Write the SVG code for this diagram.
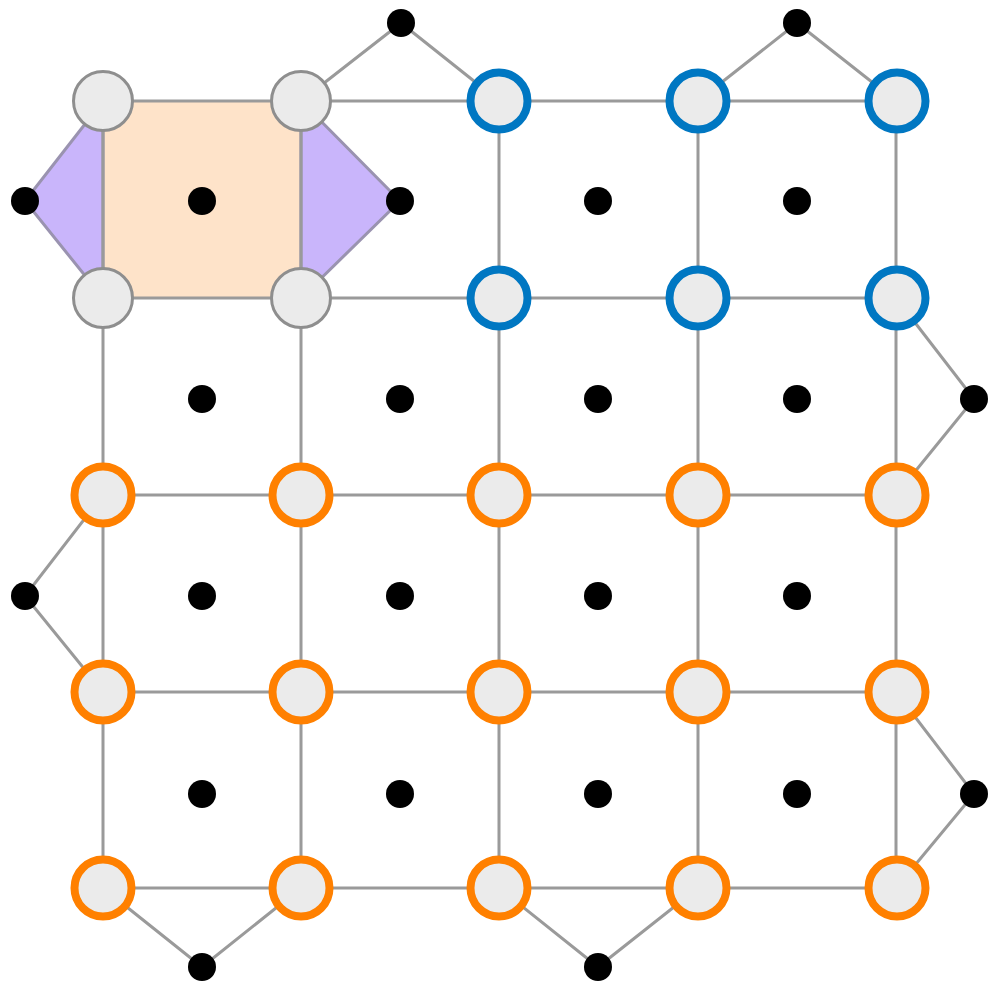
<svg xmlns="http://www.w3.org/2000/svg" width="999" height="981" viewBox="0 0 999 981">
<style>
.e{stroke:#9a9a9a;stroke-width:3;fill:none}
.g{fill:#ebebeb;stroke:#8e8e8e;stroke-width:3}
.b{fill:#ebebeb;stroke:#0077c2;stroke-width:8}
.o{fill:#ebebeb;stroke:#ff8000;stroke-width:8}
.d{fill:#000}
</style>
<rect width="999" height="981" fill="#fff"/>
<g id="faces">
<rect x="103" y="101" width="198" height="197" fill="#fee3c9"/>
<polygon points="103,101 25,201 103,298" fill="#c9b5fb" stroke="#9a93b0" stroke-width="3"/>
<polygon points="301,101 400,201 301,298" fill="#c9b5fb" stroke="#9a93b0" stroke-width="3"/>
</g>
<g id="connectors" class="e">
<line x1="103" y1="101" x2="896" y2="101"/>
<line x1="103" y1="298" x2="896" y2="298"/>
<line x1="103" y1="495" x2="896" y2="495"/>
<line x1="103" y1="692" x2="896" y2="692"/>
<line x1="103" y1="888" x2="896" y2="888"/>
<line x1="103" y1="101" x2="103" y2="888"/>
<line x1="301" y1="101" x2="301" y2="888"/>
<line x1="499" y1="101" x2="499" y2="888"/>
<line x1="698" y1="101" x2="698" y2="888"/>
<line x1="896" y1="101" x2="896" y2="888"/>
<polyline points="301,101 401,23 499,101"/>
<polyline points="698,101 797,23 896,101"/>
<polyline points="896,298 974,399 896,495"/>
<polyline points="103,495 25,596 103,692"/>
<polyline points="896,692 974,794 896,888"/>
<polyline points="103,888 202,967 301,888"/>
<polyline points="499,888 598,967 698,888"/>
</g>
<g id="dots" class="d">
<circle cx="401" cy="23" r="14"/>
<circle cx="797" cy="23" r="14"/>
<circle cx="25" cy="201" r="14"/>
<circle cx="974" cy="399" r="14"/>
<circle cx="25" cy="596" r="14"/>
<circle cx="974" cy="794" r="14"/>
<circle cx="202" cy="967" r="14"/>
<circle cx="598" cy="967" r="14"/>
<circle cx="202" cy="201" r="14"/><circle cx="400" cy="201" r="14"/><circle cx="598" cy="201" r="14"/><circle cx="797" cy="201" r="14"/>
<circle cx="202" cy="399" r="14"/><circle cx="400" cy="399" r="14"/><circle cx="598" cy="399" r="14"/><circle cx="797" cy="399" r="14"/>
<circle cx="202" cy="596" r="14"/><circle cx="400" cy="596" r="14"/><circle cx="598" cy="596" r="14"/><circle cx="797" cy="596" r="14"/>
<circle cx="202" cy="794" r="14"/><circle cx="400" cy="794" r="14"/><circle cx="598" cy="794" r="14"/><circle cx="797" cy="794" r="14"/>
</g>
<g id="nodes">
<circle id="n00" class="g" cx="103" cy="101" r="29.5"/>
<circle id="n01" class="g" cx="301" cy="101" r="29.5"/>
<circle id="n10" class="g" cx="103" cy="298" r="29.5"/>
<circle id="n11" class="g" cx="301" cy="298" r="29.5"/>
<circle id="n02" class="b" cx="499" cy="101" r="28.5"/>
<circle id="n03" class="b" cx="698" cy="101" r="28.5"/>
<circle id="n04" class="b" cx="897" cy="101" r="28.5"/>
<circle id="n12" class="b" cx="499" cy="298" r="28.5"/>
<circle id="n13" class="b" cx="698" cy="298" r="28.5"/>
<circle id="n14" class="b" cx="897" cy="298" r="28.5"/>
<circle id="n20" class="o" cx="103" cy="495" r="28.5"/>
<circle id="n21" class="o" cx="301" cy="495" r="28.5"/>
<circle id="n22" class="o" cx="499" cy="495" r="28.5"/>
<circle id="n23" class="o" cx="698" cy="495" r="28.5"/>
<circle id="n24" class="o" cx="897" cy="495" r="28.5"/>
<circle id="n30" class="o" cx="103" cy="692" r="28.5"/>
<circle id="n31" class="o" cx="301" cy="692" r="28.5"/>
<circle id="n32" class="o" cx="499" cy="692" r="28.5"/>
<circle id="n33" class="o" cx="698" cy="692" r="28.5"/>
<circle id="n34" class="o" cx="897" cy="692" r="28.5"/>
<circle id="n40" class="o" cx="103" cy="888" r="28.5"/>
<circle id="n41" class="o" cx="301" cy="888" r="28.5"/>
<circle id="n42" class="o" cx="499" cy="888" r="28.5"/>
<circle id="n43" class="o" cx="698" cy="888" r="28.5"/>
<circle id="n44" class="o" cx="897" cy="888" r="28.5"/>
</g>
</svg>
